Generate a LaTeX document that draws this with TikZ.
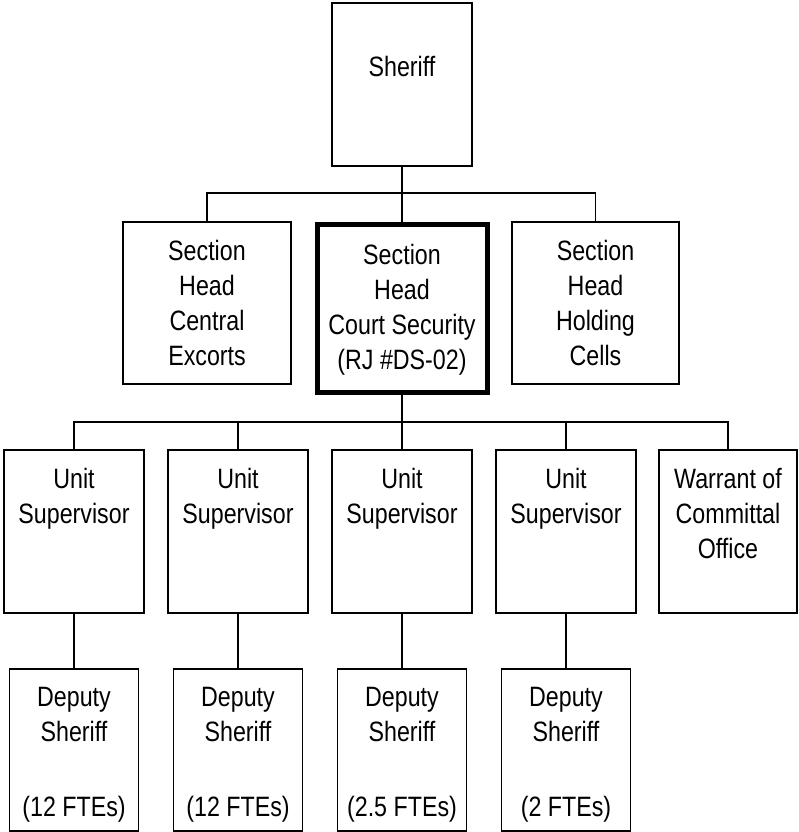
\documentclass[tikz,border=0pt]{standalone}
\usepackage{fontspec}
\setmainfont{Liberation Sans}[FakeStretch=0.83]
\usetikzlibrary{positioning}
\begin{document}
\begin{tikzpicture}[x=1pt, y=-1pt, line width=1.5pt,
    caja/.style={draw, inner sep=0pt},
    texto/.style={align=center, inner sep=0pt, font=\fontsize{28}{35}\selectfont}]
            % Marco de la figura
            \useasboundingbox (0,0) rectangle (798,832);

            % Sheriff y jefes de seccion
            \node[caja, minimum width=140pt, minimum height=163pt] (sheriff) at (402,84.5) {};
            \node[caja, minimum width=168pt, minimum height=162pt] (sec1) at (207,303) {};
            \node[caja, line width=5pt, minimum width=170pt, minimum height=168pt] (sec2) at (402,308.5) {};
            \node[caja, minimum width=167pt, minimum height=162pt] (sec3) at (595.5,303) {};

            \node[texto, below=53pt of sheriff.north] {Sheriff};
            \node[texto, below=18pt of sec1.north] {Section\\Head\\Central\\Excorts};
            \node[texto, below=21pt of sec2.north] {Section\\Head\\Court Security\\(RJ \#DS-02)};
            \node[texto, below=18pt of sec3.north] {Section\\Head\\Holding\\Cells};

            % Supervisores y diputados
            \foreach \i/\x/\f in {1/74/12, 2/238/12, 3/402/2.5, 4/566/2} {
                \node[caja, minimum width=140pt, minimum height=163pt] (u\i) at (\x,531.5) {};
                \node[texto, below=18pt of u\i.north] {Unit\\Supervisor};
                \node[caja, minimum width=129pt, minimum height=162pt] (d\i) at (\x,750) {};
                \node[texto, below=18pt of d\i.north] {Deputy\\Sheriff\\[40pt](\f{} FTEs)};
                \draw (u\i) -- (d\i);
            }
            \node[caja, minimum width=138pt, minimum height=163pt] (wco) at (728,531.5) {};
            \node[texto, below=18pt of wco.north] {Warrant of\\Committal\\Office};

            % Lineas de conexion
            \draw (sheriff.south) -- (sec2.north);
            \draw (sec1.north) -- ++(0,-28.5) -| (sec3.north);
            \draw (sec2.south) -- (u3.north);
            \draw (u1.north) -- ++(0,-27.5) -| (wco.north);
            \foreach \n in {u2,u4}
                \draw (\n.north) -- ++(0,-27.5);
        \end{tikzpicture}
\end{document}
